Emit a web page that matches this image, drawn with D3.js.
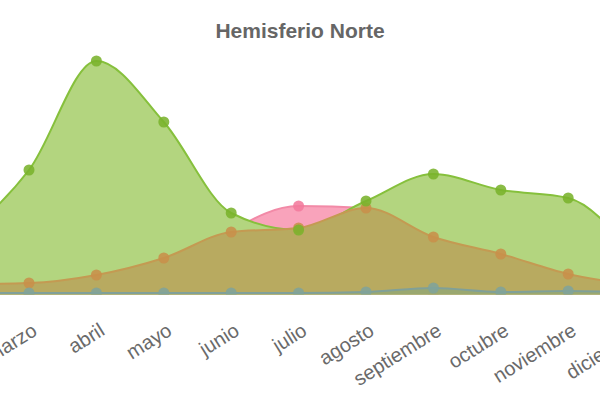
<!DOCTYPE html>
<html>
<head>
<meta charset="utf-8">
<script src="https://cdn.jsdelivr.net/npm/d3@7"></script>
<style>
  html, body { margin: 0; padding: 0; background: #fff; }
  svg { display: block; }
</style>
</head>
<body>
<svg id="chart" width="600" height="400"></svg>
<script>
const months = ["enero","febrero","marzo","abril","mayo","junio","julio","agosto","septiembre","octubre","noviembre","diciembre"];
const pinkValues  = [0, 0, 0, 0, 0, 61, 87, 85, 0, 0, 0, 0];
const greenValues = [33, 58, 123, 232, 171, 80, 63, 92, 119, 103, 95, 35];
const brownValues = [9, 9, 10, 18, 35, 61, 65, 85, 56, 39, 19, 8];
const tealValues  = [0, 0, 0, 0, 0, 0, 0, 1, 5, 1, 2, 0];
const titleText = "Hemisferio Norte";

const pink  = { values: pinkValues,  fill: "#f9a3bb", stroke: "#f28aa7", point: "#f27a9c" };
const green = { values: greenValues, fill: "#b3d57f", stroke: "#86c03c", point: "#7ab32c" };
const brown = { values: brownValues, fill: "#b8aa60", stroke: "#c49a52", point: "#c8904a" };
const teal  = { values: tealValues,  fill: "#9aa870", stroke: "#80a098", point: "#7fa39a" };

const svg = d3.select("#chart");
const x = d3.scalePoint().domain(months).range([-105.8, 635.6]);
const y = d3.scaleLinear().domain([0, 240]).range([293, 53]);

svg.append("defs").append("clipPath").attr("id", "plot")
  .append("rect").attr("x", -200).attr("y", 0).attr("width", 1000).attr("height", 294.5);

const plot = svg.append("g").attr("clip-path", "url(#plot)");

const area = d3.area()
  .x((d, i) => x(months[i]))
  .y0(y(0) + 2)
  .y1(d => y(d))
  .curve(d3.curveMonotoneX);
const line = d3.line()
  .x((d, i) => x(months[i]))
  .y(d => y(d))
  .curve(d3.curveMonotoneX);

function drawArea(s) {
  plot.append("path").datum(s.values)
    .attr("d", area).attr("fill", s.fill);
  plot.append("path").datum(s.values)
    .attr("d", line).attr("fill", "none")
    .attr("stroke", s.stroke).attr("stroke-width", 2);
}
function drawPoints(s) {
  plot.append("g").selectAll("circle").data(s.values).join("circle")
    .attr("cx", (d, i) => x(months[i]))
    .attr("cy", d => y(d))
    .attr("r", 5.5)
    .attr("fill", s.point)
    .attr("fill-opacity", 0.88);
}

drawArea(pink);
drawPoints(pink);
drawArea(green);
drawArea(brown);
drawArea(teal);
drawPoints(brown);
drawPoints(teal);
drawPoints(green);

const axis = svg.append("g")
  .call(d3.axisBottom(x).tickSize(0));
axis.select(".domain").remove();
axis.selectAll("text")
  .attr("x", 0).attr("y", 0).attr("dy", 0)
  .attr("text-anchor", "end")
  .attr("transform", "translate(9,334) rotate(-32)")
  .attr("fill", "#6a6a6a")
  .style("font-family", "'Liberation Sans', Arial, sans-serif")
  .style("font-size", "20px");

svg.append("text")
  .attr("x", 300).attr("y", 38)
  .attr("text-anchor", "middle")
  .attr("fill", "#666")
  .style("font-family", "'Liberation Sans', Arial, sans-serif")
  .style("font-weight", "bold")
  .style("font-size", "21px")
  .text(titleText);
</script>
</body>
</html>
